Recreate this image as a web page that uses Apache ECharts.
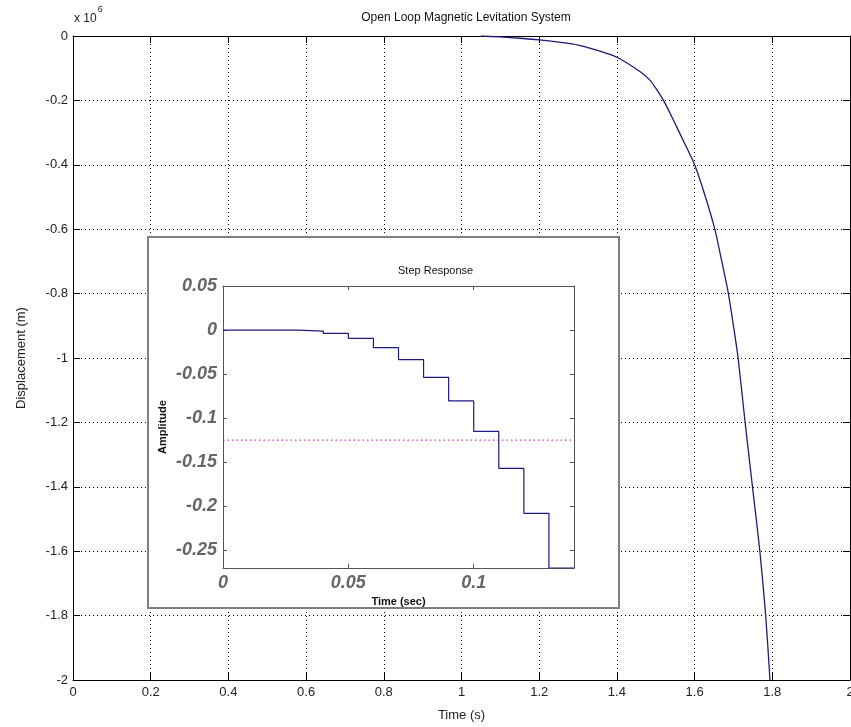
<!DOCTYPE html>
<html>
<head>
<meta charset="utf-8">
<script src="https://cdn.jsdelivr.net/npm/echarts@6/dist/echarts.min.js"></script>
<style>html,body{margin:0;padding:0;background:#fff}#c{width:851px;height:727px}</style>
</head>
<body>
<div id="c"></div>
<script>
// Main plot: displacement (x 10^6 m) vs time (s)
var mainTime = [1.05, 1.10, 1.15, 1.20, 1.25, 1.30, 1.35, 1.40, 1.46, 1.485, 1.50, 1.52, 1.545, 1.57, 1.60, 1.628, 1.652, 1.67, 1.687, 1.70, 1.712, 1.730, 1.749, 1.768, 1.783, 1.794];
var mainDisp = [0, -0.003, -0.007, -0.012, -0.019, -0.028, -0.045, -0.066, -0.111, -0.137, -0.162, -0.2, -0.26, -0.323, -0.40, -0.5, -0.6, -0.7, -0.8, -0.9, -1.0, -1.2, -1.4, -1.6, -1.8, -2.0];
var mainXTicks = [0, 0.2, 0.4, 0.6, 0.8, 1, 1.2, 1.4, 1.6, 1.8, 2];
var mainYTicks = [0, -0.2, -0.4, -0.6, -0.8, -1, -1.2, -1.4, -1.6, -1.8, -2];

// Inset: discrete step response
var stepTime = [0, 0.01, 0.02, 0.03, 0.04, 0.05, 0.06, 0.07, 0.08, 0.09, 0.10, 0.11, 0.12, 0.13, 0.14];
var stepAmp = [0, 0, 0, -0.0011, -0.0038, -0.0094, -0.020, -0.0336, -0.0536, -0.0804, -0.115, -0.157, -0.208, -0.27, -0.27];
var refLevel = -0.125;
var insetXTicks = [0, 0.05, 0.1];
var insetYTicks = [0.05, 0, -0.05, -0.1, -0.15, -0.2, -0.25];

var FONT = '"Liberation Sans", Arial, sans-serif';
var chart = echarts.init(document.getElementById('c'), null, {renderer: 'canvas'});

function pairs(xs, ys) { return xs.map(function (x, i) { return [x, ys[i]]; }); }

var mainAxisCommon = {
  type: 'value',
  axisLine: {show: true, onZero: false, lineStyle: {color: '#000', width: 1}},
  splitLine: {show: false}
};
var insetAxisCommon = {
  type: 'value',
  z: 6,
  axisLine: {show: true, onZero: false, lineStyle: {color: '#555', width: 1}},
  splitLine: {show: false}
};

var option = {
  backgroundColor: '#fff',
  animation: false,
  title: {
    text: 'Open Loop Magnetic Levitation System',
    left: 461, top: 7, textAlign: 'center',
    textStyle: {fontFamily: FONT, fontSize: 12, fontWeight: 'normal', color: '#111'}
  },
  grid: [
    {left: 73, top: 36, right: 1, bottom: 47, containLabel: false, outerBoundsMode: 'none'},
    {left: 223, top: 286, width: 351, height: 282, z: 6, containLabel: false, outerBoundsMode: 'none'}
  ],
  xAxis: [
    Object.assign({}, mainAxisCommon, {
      gridIndex: 0, position: 'bottom', min: 0, max: 2, interval: 0.2,
      axisLabel: {show: true, fontFamily: FONT, fontSize: 13, color: '#222', margin: 6,
        customValues: mainXTicks},
      axisTick: {show: true, inside: true, length: 7, lineStyle: {color: '#000'}, customValues: mainXTicks},
      splitLine: {show: true, lineStyle: {color: '#000', type: [1, 3], width: 1}},
      name: 'Time (s)', nameLocation: 'middle', nameGap: 29,
      nameTextStyle: {fontFamily: FONT, fontSize: 13, color: '#222'}
    }),
    Object.assign({}, mainAxisCommon, {
      gridIndex: 0, position: 'top', min: 0, max: 2, interval: 0.2,
      axisLabel: {show: false},
      axisTick: {show: true, inside: true, length: 7, lineStyle: {color: '#000'}, customValues: mainXTicks}
    }),
    Object.assign({}, insetAxisCommon, {
      gridIndex: 1, position: 'bottom', min: 0, max: 0.14,
      axisLabel: {show: true, fontFamily: FONT, fontSize: 18, fontWeight: 'bold', fontStyle: 'italic',
        color: '#666', margin: 6, customValues: insetXTicks},
      axisTick: {show: true, inside: true, length: 4, lineStyle: {color: '#555'}, customValues: insetXTicks},
      name: 'Time (sec)', nameLocation: 'middle', nameGap: 28,
      nameTextStyle: {fontFamily: FONT, fontSize: 11, fontWeight: 'bold', color: '#111'}
    }),
    Object.assign({}, insetAxisCommon, {
      gridIndex: 1, position: 'top', min: 0, max: 0.14,
      axisLabel: {show: false},
      axisTick: {show: true, inside: true, length: 4, lineStyle: {color: '#555'}, customValues: insetXTicks}
    })
  ],
  yAxis: [
    Object.assign({}, mainAxisCommon, {
      gridIndex: 0, position: 'left', min: -2, max: 0, interval: 0.2,
      axisLabel: {show: true, fontFamily: FONT, fontSize: 13, color: '#222', margin: 5,
        customValues: mainYTicks},
      axisTick: {show: true, inside: true, length: 7, lineStyle: {color: '#000'}, customValues: mainYTicks},
      splitLine: {show: true, lineStyle: {color: '#000', type: [1, 3], width: 1}},
      name: 'Displacement (m)', nameLocation: 'middle', nameGap: 45,
      nameTextStyle: {fontFamily: FONT, fontSize: 13, color: '#222'}
    }),
    Object.assign({}, mainAxisCommon, {
      gridIndex: 0, position: 'right', min: -2, max: 0, interval: 0.2,
      axisLabel: {show: false},
      axisTick: {show: true, inside: true, length: 7, lineStyle: {color: '#000'}, customValues: mainYTicks}
    }),
    Object.assign({}, insetAxisCommon, {
      gridIndex: 1, position: 'left', min: -0.27, max: 0.05,
      axisLabel: {show: true, fontFamily: FONT, fontSize: 18, fontWeight: 'bold', fontStyle: 'italic',
        color: '#666', margin: 6, customValues: insetYTicks},
      axisTick: {show: true, inside: true, length: 4, lineStyle: {color: '#555'}, customValues: insetYTicks},
      name: 'Amplitude', nameLocation: 'middle', nameGap: 55,
      nameTextStyle: {fontFamily: FONT, fontSize: 11, fontWeight: 'bold', color: '#111'}
    }),
    Object.assign({}, insetAxisCommon, {
      gridIndex: 1, position: 'right', min: -0.27, max: 0.05,
      axisLabel: {show: false},
      axisTick: {show: true, inside: true, length: 4, lineStyle: {color: '#555'}, customValues: insetYTicks}
    })
  ],
  series: [
    {
      type: 'line', xAxisIndex: 0, yAxisIndex: 0,
      data: pairs(mainTime, mainDisp),
      smooth: 0.25, symbol: 'none',
      lineStyle: {color: '#1c1c7a', width: 1.3}, z: 3
    },
    {
      type: 'line', xAxisIndex: 2, yAxisIndex: 2,
      data: pairs(stepTime, stepAmp),
      step: 'end', symbol: 'none',
      lineStyle: {color: '#1a1a80', width: 1.2}, z: 8
    },
    {
      type: 'line', xAxisIndex: 2, yAxisIndex: 2,
      data: [[0, refLevel], [0.14, refLevel]],
      symbol: 'none',
      lineStyle: {color: '#c43cc4', width: 1.3, type: [1.5, 3]}, z: 7
    }
  ],
  graphic: [
    {
      type: 'rect', z: 5,
      shape: {x: 148, y: 237, width: 471, height: 371},
      style: {fill: '#fff', stroke: '#7f7f7f', lineWidth: 2}
    },
    {
      type: 'text', z: 6, left: 398, top: 265,
      style: {text: 'Step Response', fontFamily: FONT, fontSize: 11, fill: '#111', textAlign: 'center'}
    },
    {
      type: 'text', z: 6, left: 74, top: 5,
      style: {
        text: '{a|x 10}{b|6}',
        rich: {
          a: {fontFamily: FONT, fontSize: 12, fill: '#222', padding: [8, 0, 0, 0]},
          b: {fontFamily: FONT, fontSize: 9, fill: '#222', padding: [0, 0, 6, 1], verticalAlign: 'top'}
        }
      }
    }
  ]
};
chart.setOption(option);
</script>
</body>
</html>
